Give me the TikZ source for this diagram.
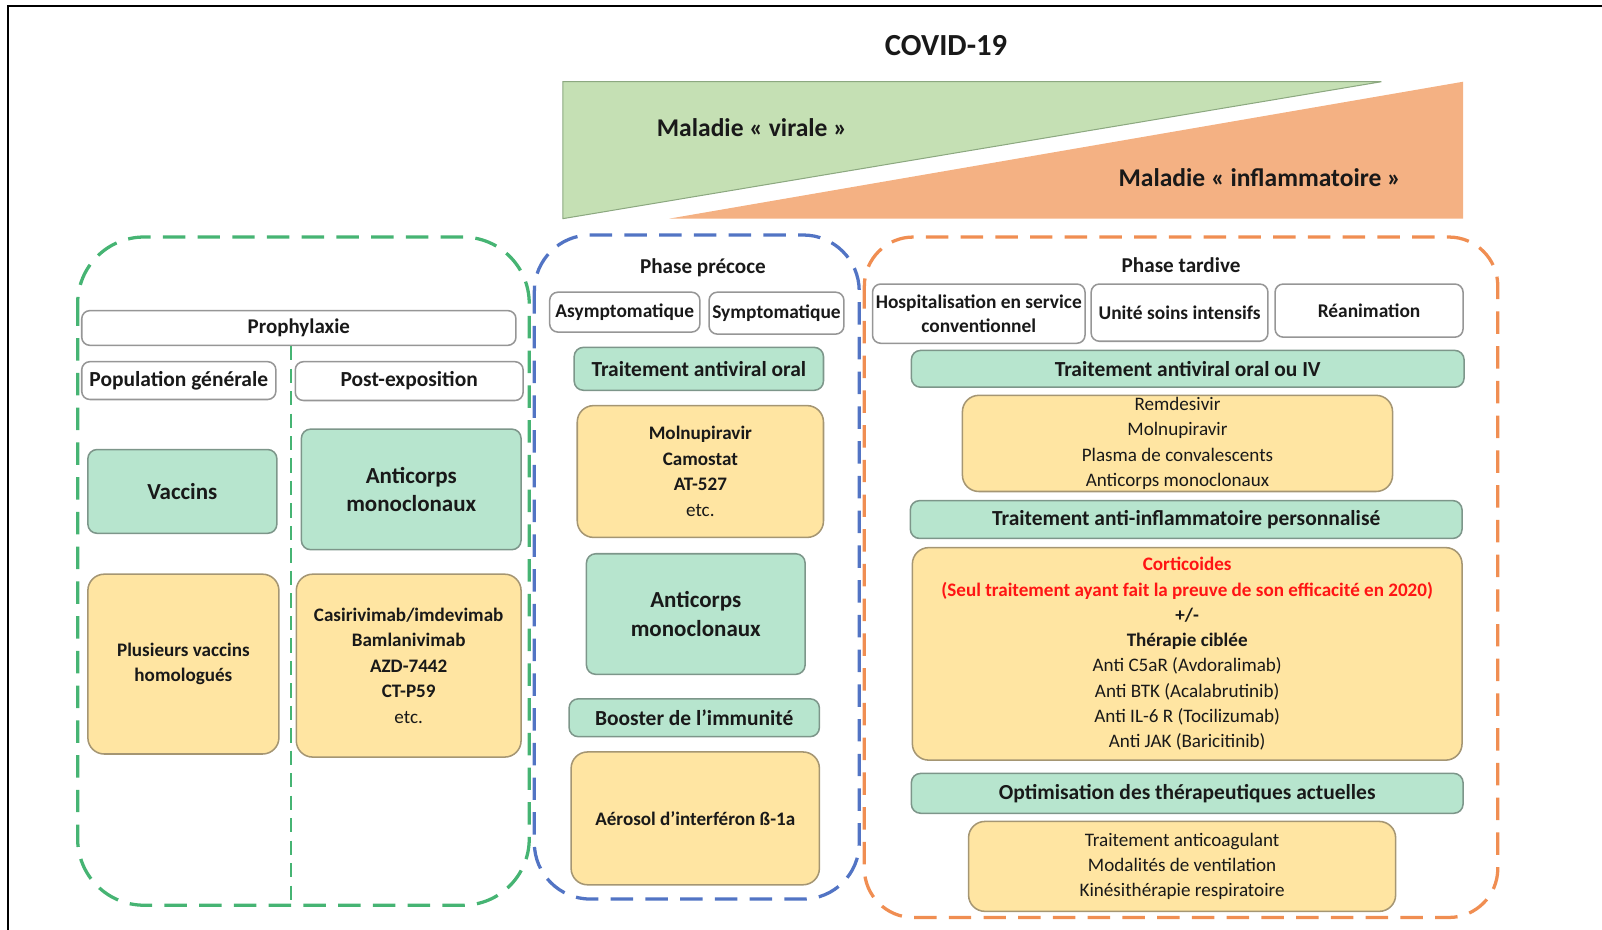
\documentclass[tikz,border=0pt]{standalone}
\usepackage{fontspec}
\setmainfont{Carlito}
\usepackage{xcolor}
\usetikzlibrary{positioning}

\definecolor{framegreen}{RGB}{70,180,115}
\definecolor{frameblue}{RGB}{82,116,196}
\definecolor{frameorange}{RGB}{240,142,82}
\definecolor{treatfill}{RGB}{183,229,206}
\definecolor{treatline}{RGB}{125,150,138}
\definecolor{drugfill}{RGB}{255,229,162}
\definecolor{drugline}{RGB}{165,150,115}
\definecolor{hdrline}{RGB}{150,150,150}
\definecolor{viralfill}{RGB}{197,224,180}
\definecolor{viralline}{RGB}{140,168,128}
\definecolor{inflamfill}{RGB}{244,177,131}
\definecolor{redtext}{RGB}{255,20,20}

\begin{document}
\begin{tikzpicture}[x=1pt, y=-1pt,
    every node/.style={align=center, inner sep=2pt, text=black!90},
    hdr/.style={draw=hdrline, line width=1.5pt, fill=white, rounded corners=8pt, font=\bfseries\fontsize{19}{23.5}\selectfont},
    treat/.style={draw=treatline, line width=1.5pt, fill=treatfill, rounded corners=9pt, font=\bfseries\fontsize{21}{28}\selectfont},
    drug/.style={draw=drugline, line width=1.5pt, fill=drugfill, rounded corners=16pt, font=\bfseries\fontsize{18.7}{25}\selectfont},
    druglight/.style={drug, font=\fontsize{18.7}{24.7}\selectfont},
    phasebox/.style={line width=3.2pt, dash pattern=on 22pt off 12pt},
    phasetitle/.style={font=\bfseries\fontsize{20.7}{24}\selectfont}]
    \useasboundingbox (0,0) rectangle (1568,910);
    % outer frame
    \draw[line width=2pt] (8,910) -- (8,6) -- (1568,6);
    \node[font=\bfseries\fontsize{30}{36}\selectfont] (title) at (926,45) {COVID-19};

    % viral / inflammatory wedges
    \filldraw[fill=viralfill, draw=viralline, line width=1pt] (551,80) -- (1352,80) -- (551,214) -- cycle;
    \fill[inflamfill] (655,214) -- (1432,80) -- (1432,214) -- cycle;
    \node[font=\bfseries\fontsize{25}{30}\selectfont] (viral) at (736,125) {Maladie « virale »};
    \node[font=\bfseries\fontsize{25}{30}\selectfont] (inflam) at (1233,174) {Maladie « inflammatoire »};

    % prophylaxie
    \draw[phasebox, draw=framegreen, rounded corners=65pt] (76,232) rectangle (518,886);
    \node[hdr, font=\bfseries\fontsize{20.5}{24}\selectfont, minimum width=425pt, minimum height=34pt] (proph) at (292.5,321) {Prophylaxie};
    \coordinate (splitend) at (285,886);
    \draw[framegreen, line width=2.5pt, dash pattern=on 14pt off 8pt] (proph.south -| splitend) -- (splitend);
    \node[hdr, font=\bfseries\fontsize{21}{24}\selectfont, minimum width=190pt, minimum height=37pt] (popgen) at (175,372.5) {Population générale};
    \node[hdr, font=\bfseries\fontsize{21}{24}\selectfont, minimum width=223pt, minimum height=38pt] (postexp) at (400.5,373) {Post-exposition};
    \node[treat, font=\bfseries\fontsize{22.5}{28}\selectfont, minimum width=185pt, minimum height=82pt] (vacc) at (178.5,481) {Vaccins};
    \node[treat, font=\bfseries\fontsize{22.5}{28}\selectfont, minimum width=215pt, minimum height=118pt] (mabpre) at (402.5,479) {Anticorps\\monoclonaux};
    \node[drug, minimum width=187pt, minimum height=176pt] (vacclist) at (179.5,650) {Plusieurs vaccins\\homologués};
    \node[drug, minimum width=220pt, minimum height=179pt] (mablist) at (400,651.5) {Casirivimab/imdevimab\\Bamlanivimab\\AZD-7442\\CT-P59\\\mdseries etc.};

    % phase precoce
    \draw[phasebox, draw=frameblue, rounded corners=55pt] (523,230) rectangle (841,880);
    \node[phasetitle] (early) at (688,262) {Phase précoce};
    \node[hdr, minimum width=147pt, minimum height=39pt] (asym) at (611.5,305.5) {Asymptomatique};
    \node[hdr, minimum width=132pt, minimum height=41pt] (sym) at (760,306.5) {Symptomatique};
    \node[treat, minimum width=244pt, minimum height=42pt] (oral) at (684,361) {Traitement antiviral oral};
    \node[drug, minimum width=241pt, minimum height=129pt] (orallist) at (685.5,461.5) {Molnupiravir\\Camostat\\AT-527\\\mdseries etc.};
    \node[treat, font=\bfseries\fontsize{22.5}{28}\selectfont, minimum width=214pt, minimum height=118pt] (mabearly) at (681,601) {Anticorps\\monoclonaux};
    \node[treat, minimum width=245pt, minimum height=37pt] (boost) at (679.5,702.5) {Booster de l’immunité};
    \node[drug, minimum width=243pt, minimum height=130pt] (ifn) at (680.5,801) {Aérosol d’interféron ß-1a};

    % phase tardive
    \draw[phasebox, draw=frameorange, rounded corners=48pt] (846,232) rectangle (1466,898);
    \node[phasetitle] (late) at (1156,260) {Phase tardive};
    \node[hdr, minimum width=208pt, minimum height=58pt] (hosp) at (958,307) {Hospitalisation en service\\conventionnel};
    \node[hdr, minimum width=173pt, minimum height=56pt] (usi) at (1154.5,306) {Unité soins intensifs};
    \node[hdr, minimum width=184pt, minimum height=52pt] (rea) at (1340,304) {Réanimation};
    \node[treat, minimum width=541pt, minimum height=36pt] (oraliv) at (1162.5,361) {Traitement antiviral oral ou IV};
    \node[druglight, minimum width=421pt, minimum height=92pt] (ivlist) at (1152.5,434) {Remdesivir\\Molnupiravir\\Plasma de convalescents\\Anticorps monoclonaux};
    \node[treat, minimum width=540pt, minimum height=37pt] (antiinf) at (1161,508.5) {Traitement anti-inflammatoire personnalisé};
    \node[druglight, minimum width=538pt, minimum height=208pt] (inflist) at (1162,640) {\textbf{\textcolor{redtext}{Corticoides}}\\\textbf{\textcolor{redtext}{(Seul traitement ayant fait la preuve de son efficacité en 2020)}}\\\textbf{+/-}\\\textbf{Thérapie ciblée}\\Anti C5aR (Avdoralimab)\\Anti BTK (Acalabrutinib)\\Anti IL-6 R (Tocilizumab)\\Anti JAK (Baricitinib)};
    \node[treat, minimum width=540pt, minimum height=39pt] (optim) at (1162,776.5) {Optimisation des thérapeutiques actuelles};
    \node[druglight, minimum width=418pt, minimum height=88pt] (support) at (1157,848) {Traitement anticoagulant\\Modalités de ventilation\\Kinésithérapie respiratoire};
\end{tikzpicture}
\end{document}
